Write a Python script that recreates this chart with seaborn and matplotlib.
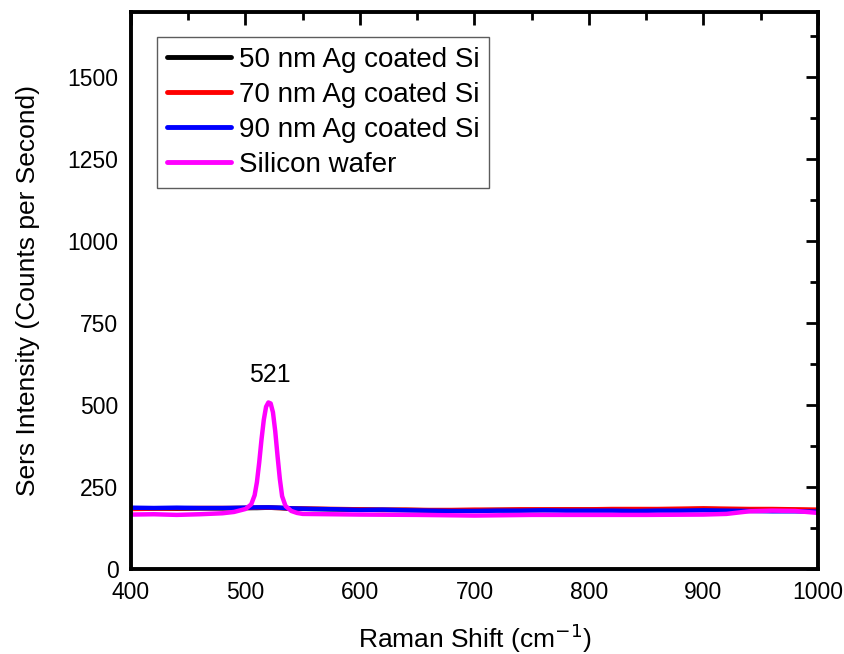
import matplotlib
matplotlib.use("Agg")
import matplotlib.pyplot as plt
import seaborn as sns
import pandas as pd
import numpy as np

sns.set_theme(style="white")
plt.rcParams['font.family'] = ['Liberation Sans', 'DejaVu Sans']
plt.rcParams['text.color'] = 'black'
plt.rcParams['axes.labelcolor'] = 'black'

# ---- data ----
shift_ag = [400, 420, 440, 460, 480, 500, 510, 520, 530, 540, 560, 580, 600, 620, 640, 660, 680,
            700, 720, 740, 760, 780, 800, 820, 840, 860, 880, 900, 920, 940, 960, 980, 1000]
ag50 = [184, 185, 184, 185, 185, 186, 186, 187, 186, 184, 183, 182, 181, 180, 180, 179, 179,
        179, 180, 180, 180, 181, 181, 181, 181, 182, 182, 183, 182, 181, 181, 180, 179]
ag70 = [183, 184, 185, 186, 186, 186, 187, 187, 186, 185, 184, 183, 182, 181, 181, 180, 180,
        181, 181, 182, 182, 182, 182, 183, 183, 183, 184, 185, 184, 183, 183, 182, 181]
ag90 = [187, 186, 187, 186, 186, 187, 188, 188, 187, 185, 183, 182, 180, 181, 179, 178, 177,
        177, 178, 178, 179, 178, 178, 178, 177, 178, 178, 179, 178, 177, 176, 176, 175]

shift_si = [400, 420, 440, 460, 480, 490, 500, 505, 508, 510, 512, 514, 516, 518, 520, 522, 524,
            526, 528, 530, 532, 535, 540, 545, 550, 600, 650, 700, 750, 800, 850, 900, 920,
            930, 940, 960, 980, 1000]
si_wafer = [166, 167, 165, 167, 170, 174, 183, 197, 225, 265, 325, 395, 455, 495, 508, 505, 478,
            420, 345, 275, 222, 192, 177, 171, 168, 166, 165, 163, 165, 165, 165, 166, 168,
            172, 176, 178, 177, 171]

labels = ["50 nm Ag coated Si", "70 nm Ag coated Si", "90 nm Ag coated Si", "Silicon wafer"]
colors = ["#000000", "#ff0000", "#0000ff", "#ff00ff"]
peak_label = "521"

frames = [
    pd.DataFrame({"shift": shift_ag, "intensity": ag50, "sample": labels[0]}),
    pd.DataFrame({"shift": shift_ag, "intensity": ag70, "sample": labels[1]}),
    pd.DataFrame({"shift": shift_ag, "intensity": ag90, "sample": labels[2]}),
    pd.DataFrame({"shift": shift_si, "intensity": si_wafer, "sample": labels[3]}),
]
df = pd.concat(frames, ignore_index=True)

fig = plt.figure(figsize=(8.45, 6.54), dpi=100)
ax = fig.add_axes([0.155, 0.130, 0.813, 0.852])

sns.lineplot(data=df, x="shift", y="intensity", hue="sample", hue_order=labels,
             palette=dict(zip(labels, colors)), linewidth=3.2, ax=ax, estimator=None,
             sort=False)

ax.set_xlim(400, 1000)
ax.set_ylim(0, 1700)
ax.set_xticks(np.arange(400, 1001, 100))
ax.set_xticks(np.arange(450, 1000, 100), minor=True)
ax.set_yticks(np.arange(0, 1501, 250))
ax.set_yticks(np.arange(125, 1700, 250), minor=True)

ax.tick_params(which="major", direction="in", length=9, width=2, top=True, right=True,
               labelsize=16.5, pad=9, colors="black", labelcolor="black")
ax.tick_params(which="minor", direction="in", length=5.5, width=2, top=True, right=True,
               colors="black")
for s in ax.spines.values():
    s.set_linewidth(2.8)
    s.set_color("black")

ax.set_xlabel("Raman Shift (cm$^{-1}$)", fontsize=19, labelpad=12)
ax.set_ylabel("Sers Intensity (Counts per Second)", fontsize=19, labelpad=20)

ax.text(521, 555, peak_label, ha="center", va="bottom", fontsize=18)

leg = ax.legend(loc="upper left", bbox_to_anchor=(0.038, 0.954), fontsize=20, frameon=True,
                fancybox=False, edgecolor="#333333", handlelength=2.3, handletextpad=0.3,
                borderpad=0.35, labelspacing=0.32, borderaxespad=0)
leg.get_frame().set_linewidth(1.0)
for line in leg.get_lines():
    line.set_linewidth(3.5)

fig.savefig("out.png", dpi=100)
